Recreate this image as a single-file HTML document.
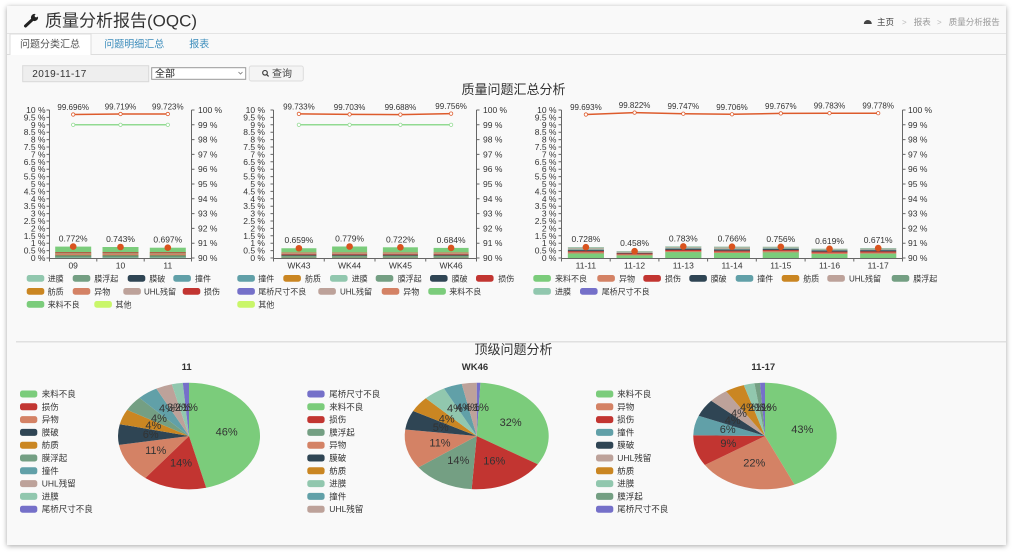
<!DOCTYPE html>
<html><head><meta charset="utf-8">
<style>
html,body{margin:0;padding:0;background:#fff;width:1014px;height:552px;overflow:hidden;}
.card{position:absolute;left:7px;top:6px;width:999px;height:539px;background:#f9f9f9;box-shadow:0 1px 5px rgba(0,0,0,.35);}
svg{position:absolute;left:0;top:0;}
text{font-family:"Liberation Sans","Noto Sans CJK SC",sans-serif;fill:#333;}
.ax{font-size:8.5px;}
.lg{font-size:8px;}
.pl{font-size:8.5px;}
.vl{font-size:8px;fill:#e36c3d;}
.bl{font-size:8.5px;fill:#e36c3d;}
.pv{font-size:11px;fill:#fff;}
</style></head><body>
<div class="card"></div>
<svg width="1014" height="552" viewBox="0 0 1014 552" xmlns="http://www.w3.org/2000/svg">
<!-- header -->
<line x1="7" y1="33.5" x2="1006" y2="33.5" stroke="#e4e4e4"/>
<g stroke="#222" stroke-linecap="round">
<line x1="25.5" y1="26" x2="32.5" y2="19.5" stroke-width="3"/>
</g>
<circle cx="34.5" cy="17.5" r="3.6" fill="#222"/>
<circle cx="36.3" cy="15.7" r="1.6" fill="#f9f9f9"/>
<text x="45" y="26.5" style="font-size:17px;fill:#333">质量分析报告(OQC)</text>
<path d="M863.8 24 a4 4 0 0 1 8 0 z" fill="#444"/>
<text x="877" y="25" style="font-size:8.5px;fill:#444">主页</text>
<text x="902" y="25" style="font-size:8px;fill:#bbb">&gt;</text>
<text x="913.7" y="25" style="font-size:8.5px;fill:#999">报表</text>
<text x="937" y="25" style="font-size:8px;fill:#bbb">&gt;</text>
<text x="948.7" y="25" style="font-size:8.5px;fill:#999">质量分析报告</text>
<!-- tabs -->
<line x1="7" y1="54.5" x2="1006" y2="54.5" stroke="#ddd"/>
<rect x="10" y="34" width="81" height="21" fill="#fff"/>
<path d="M10 55V34H91V55" fill="none" stroke="#ddd"/>
<text x="20" y="47.5" style="font-size:10px;fill:#555">问题分类汇总</text>
<text x="104.3" y="47.5" style="font-size:10px;fill:#3c8dbc">问题明细汇总</text>
<text x="189.3" y="47.5" style="font-size:10px;fill:#3c8dbc">报表</text>
<!-- form -->
<rect x="22.7" y="65.7" width="126" height="16" fill="#eee" stroke="#d9d9d9"/>
<text x="32.3" y="77" style="font-size:10px;letter-spacing:0.4px;fill:#333">2019-11-17</text>
<rect x="151.7" y="67.7" width="94" height="11.6" fill="#fff" stroke="#999"/>
<text x="155" y="77" style="font-size:10px;fill:#222">全部</text>
<path d="M238.5 72l2 2 2-2" fill="none" stroke="#777" stroke-width="0.8"/>
<rect x="249.3" y="66" width="54" height="15" rx="2" fill="#f4f4f4" stroke="#ddd"/>
<circle cx="265" cy="72.8" r="2.3" fill="none" stroke="#333" stroke-width="1.1"/>
<line x1="266.7" y1="74.5" x2="268.6" y2="76.4" stroke="#333" stroke-width="1.2"/>
<text x="272" y="77" style="font-size:10px;fill:#444">查询</text>
<text x="513.5" y="93.8" text-anchor="middle" style="font-size:13px;fill:#333">质量问题汇总分析</text>

<defs>
<path id="ltk" d="M-3 110h3M-3 117.4h3M-3 124.8h3M-3 132.2h3M-3 139.6h3M-3 147h3M-3 154.4h3M-3 161.8h3M-3 169.2h3M-3 176.6h3M-3 184h3M-3 191.4h3M-3 198.8h3M-3 206.2h3M-3 213.6h3M-3 221h3M-3 228.4h3M-3 235.8h3M-3 243.2h3M-3 250.6h3M-3 258h3"/>
<path id="rtk" d="M0 110h3M0 124.8h3M0 139.6h3M0 154.4h3M0 169.2h3M0 184h3M0 198.8h3M0 213.6h3M0 228.4h3M0 243.2h3M0 258h3"/>
<g id="s1">
<rect x="0" y="252.3" width="36" height="1.0" fill="#c23531"/>
<rect x="0" y="253.3" width="36" height="0.4" fill="#bda29a"/>
<rect x="0" y="253.7" width="36" height="1.5" fill="#d48265"/>
<rect x="0" y="255.2" width="36" height="0.3" fill="#ca8622"/>
<rect x="0" y="255.5" width="36" height="0.3" fill="#61a0a8"/>
<rect x="0" y="255.8" width="36" height="0.5" fill="#2f4554"/>
<rect x="0" y="256.3" width="36" height="1.3" fill="#749f83"/>
<rect x="0" y="257.6" width="36" height="0.4" fill="#91c7ae"/>
</g>
<g id="s2">
<rect x="0" y="252.4" width="35" height="1.3" fill="#d48265"/>
<rect x="0" y="253.7" width="35" height="0.4" fill="#bda29a"/>
<rect x="0" y="254.1" width="35" height="0.2" fill="#7570c9"/>
<rect x="0" y="254.3" width="35" height="1.0" fill="#c23531"/>
<rect x="0" y="255.3" width="35" height="0.6" fill="#2f4554"/>
<rect x="0" y="255.9" width="35" height="1.0" fill="#749f83"/>
<rect x="0" y="256.9" width="35" height="0.3" fill="#91c7ae"/>
<rect x="0" y="257.2" width="35" height="0.3" fill="#ca8622"/>
<rect x="0" y="257.5" width="35" height="0.5" fill="#61a0a8"/>
</g>
</defs>

<!-- ============ CHART 1 ============ -->
<g class="ax" text-anchor="end">
<text x="45.5" y="113">10 %</text><text x="45.5" y="120.4">9.5 %</text><text x="45.5" y="127.8">9 %</text><text x="45.5" y="135.2">8.5 %</text><text x="45.5" y="142.6">8 %</text><text x="45.5" y="150">7.5 %</text><text x="45.5" y="157.4">7 %</text><text x="45.5" y="164.8">6.5 %</text><text x="45.5" y="172.2">6 %</text><text x="45.5" y="179.6">5.5 %</text><text x="45.5" y="187">5 %</text><text x="45.5" y="194.4">4.5 %</text><text x="45.5" y="201.8">4 %</text><text x="45.5" y="209.2">3.5 %</text><text x="45.5" y="216.6">3 %</text><text x="45.5" y="224">2.5 %</text><text x="45.5" y="231.4">2 %</text><text x="45.5" y="238.8">1.5 %</text><text x="45.5" y="246.2">1 %</text><text x="45.5" y="253.6">0.5 %</text><text x="45.5" y="261">0 %</text>
</g>
<g class="ax">
<text x="198" y="113">100 %</text><text x="198" y="127.8">99 %</text><text x="198" y="142.6">98 %</text><text x="198" y="157.4">97 %</text><text x="198" y="172.2">96 %</text><text x="198" y="187">95 %</text><text x="198" y="201.8">94 %</text><text x="198" y="216.6">93 %</text><text x="198" y="231.4">92 %</text><text x="198" y="246.2">91 %</text><text x="198" y="261">90 %</text>
</g>
<!-- bars -->
<rect x="55.2" y="246.6" width="36" height="11.4" fill="#7bcc7b"/>
<rect x="102.5" y="247.0" width="36" height="11.0" fill="#7bcc7b"/>
<rect x="149.8" y="247.7" width="36" height="10.3" fill="#7bcc7b"/>
<use href="#s1" x="55.2"/><use href="#s1" x="102.5"/><use href="#s1" x="149.8"/>
<g stroke="#666" fill="none">
<use href="#ltk" x="49.5"/><use href="#rtk" x="191.5"/>
<path d="M49.5 110V258.5M191.5 110V258.5M49.5 258.5H191.5M49.5 258.5v3M96.8 258.5v3M144.2 258.5v3M191.5 258.5v3"/>
</g>
<g class="ax" text-anchor="middle">
<text x="73.2" y="268.7">09</text><text x="120.5" y="268.7">10</text><text x="167.8" y="268.7">11</text>
</g>
<polyline points="73.2,124.8 120.5,124.8 167.8,124.8" fill="none" stroke="#92da92" stroke-width="1.5"/>
<g fill="#fff" stroke="#92da92" stroke-width="0.8"><circle cx="73.2" cy="124.8" r="1.7"/><circle cx="120.5" cy="124.8" r="1.7"/><circle cx="167.8" cy="124.8" r="1.7"/></g>
<polyline points="73.2,114.5 120.5,114 167.8,114" fill="none" stroke="#dd5b2c" stroke-width="1.5"/>
<g fill="#fff" stroke="#dd5b2c" stroke-width="0.8"><circle cx="73.2" cy="114.5" r="1.7"/><circle cx="120.5" cy="114" r="1.7"/><circle cx="167.8" cy="114" r="1.7"/></g>
<g class="vl" text-anchor="middle">
<text x="73.2" y="110">99.696%</text><text x="120.5" y="109.5">99.719%</text><text x="167.8" y="109.5">99.723%</text>
</g>
<g fill="#d9531e"><circle cx="73.2" cy="246.6" r="3.3"/><circle cx="120.5" cy="247" r="3.3"/><circle cx="167.8" cy="247.7" r="3.3"/></g>
<g class="bl" text-anchor="middle">
<text x="73.2" y="241.6">0.772%</text><text x="120.5" y="242">0.743%</text><text x="167.8" y="242.7">0.697%</text>
</g>
<!-- legend 1 -->
<g>
<rect x="26.7" y="275" width="17.6" height="6.7" rx="2.5" fill="#91c7ae"/>
<rect x="72.7" y="275" width="17.6" height="6.7" rx="2.5" fill="#749f83"/>
<rect x="127.7" y="275" width="17.6" height="6.7" rx="2.5" fill="#2f4554"/>
<rect x="173.3" y="275" width="17.6" height="6.7" rx="2.5" fill="#61a0a8"/>
<rect x="26.7" y="288" width="17.6" height="6.7" rx="2.5" fill="#ca8622"/>
<rect x="72.7" y="288" width="17.6" height="6.7" rx="2.5" fill="#d48265"/>
<rect x="123.3" y="288" width="17.6" height="6.7" rx="2.5" fill="#bda29a"/>
<rect x="182.7" y="288" width="17.6" height="6.7" rx="2.5" fill="#c23531"/>
<rect x="26.7" y="301" width="17.6" height="6.7" rx="2.5" fill="#7bcc7b"/>
<rect x="94.3" y="301" width="17.6" height="6.7" rx="2.5" fill="#c9f66a"/>
</g>
<g class="lg">
<text x="47.7" y="281.3">进膜</text><text x="94.3" y="281.3">膜浮起</text><text x="149.3" y="281.3">膜破</text><text x="195" y="281.3">撞件</text>
<text x="47.7" y="294.3">舫质</text><text x="94.3" y="294.3">异物</text><text x="144" y="294.3">UHL残留</text><text x="204" y="294.3">损伤</text>
<text x="47.7" y="307.3">来料不良</text><text x="115.5" y="307.3">其他</text>
</g>

<!-- ============ CHART 2 ============ -->
<g class="ax" text-anchor="end">
<text x="265" y="113">10 %</text><text x="265" y="120.4">9.5 %</text><text x="265" y="127.8">9 %</text><text x="265" y="135.2">8.5 %</text><text x="265" y="142.6">8 %</text><text x="265" y="150">7.5 %</text><text x="265" y="157.4">7 %</text><text x="265" y="164.8">6.5 %</text><text x="265" y="172.2">6 %</text><text x="265" y="179.6">5.5 %</text><text x="265" y="187">5 %</text><text x="265" y="194.4">4.5 %</text><text x="265" y="201.8">4 %</text><text x="265" y="209.2">3.5 %</text><text x="265" y="216.6">3 %</text><text x="265" y="224">2.5 %</text><text x="265" y="231.4">2 %</text><text x="265" y="238.8">1.5 %</text><text x="265" y="246.2">1 %</text><text x="265" y="253.6">0.5 %</text><text x="265" y="261">0 %</text>
</g>
<g class="ax">
<text x="483" y="113">100 %</text><text x="483" y="127.8">99 %</text><text x="483" y="142.6">98 %</text><text x="483" y="157.4">97 %</text><text x="483" y="172.2">96 %</text><text x="483" y="187">95 %</text><text x="483" y="201.8">94 %</text><text x="483" y="216.6">93 %</text><text x="483" y="231.4">92 %</text><text x="483" y="246.2">91 %</text><text x="483" y="261">90 %</text>
</g>
<rect x="281.4" y="248.25" width="35" height="9.75" fill="#7bcc7b"/>
<rect x="332.1" y="246.5" width="35" height="11.5" fill="#7bcc7b"/>
<rect x="382.9" y="247.3" width="35" height="10.7" fill="#7bcc7b"/>
<rect x="433.6" y="247.9" width="35" height="10.1" fill="#7bcc7b"/>
<use href="#s2" x="281.4"/><use href="#s2" x="332.1"/><use href="#s2" x="382.9"/><use href="#s2" x="433.6"/>
<g stroke="#666" fill="none">
<use href="#ltk" x="273.5"/><use href="#rtk" x="476.5"/>
<path d="M273.5 110V258.5M476.5 110V258.5M273.5 258.5H476.5M273.5 258.5v3M324.25 258.5v3M375 258.5v3M425.75 258.5v3M476.5 258.5v3"/>
</g>
<g class="ax" text-anchor="middle">
<text x="298.9" y="268.7">WK43</text><text x="349.6" y="268.7">WK44</text><text x="400.4" y="268.7">WK45</text><text x="451.1" y="268.7">WK46</text>
</g>
<polyline points="298.9,124.8 349.6,124.8 400.4,124.8 451.1,124.8" fill="none" stroke="#92da92" stroke-width="1.5"/>
<g fill="#fff" stroke="#92da92" stroke-width="0.8"><circle cx="298.9" cy="124.8" r="1.7"/><circle cx="349.6" cy="124.8" r="1.7"/><circle cx="400.4" cy="124.8" r="1.7"/><circle cx="451.1" cy="124.8" r="1.7"/></g>
<polyline points="298.9,113.9 349.6,114.4 400.4,114.6 451.1,113.6" fill="none" stroke="#dd5b2c" stroke-width="1.5"/>
<g fill="#fff" stroke="#dd5b2c" stroke-width="0.8"><circle cx="298.9" cy="113.9" r="1.7"/><circle cx="349.6" cy="114.4" r="1.7"/><circle cx="400.4" cy="114.6" r="1.7"/><circle cx="451.1" cy="113.6" r="1.7"/></g>
<g class="vl" text-anchor="middle">
<text x="298.9" y="109.4">99.733%</text><text x="349.6" y="109.9">99.703%</text><text x="400.4" y="110.1">99.688%</text><text x="451.1" y="109.1">99.756%</text>
</g>
<g fill="#d9531e"><circle cx="298.9" cy="248.25" r="3.3"/><circle cx="349.6" cy="246.5" r="3.3"/><circle cx="400.4" cy="247.3" r="3.3"/><circle cx="451.1" cy="247.9" r="3.3"/></g>
<g class="bl" text-anchor="middle">
<text x="298.9" y="243.2">0.659%</text><text x="349.6" y="241.5">0.779%</text><text x="400.4" y="242.3">0.722%</text><text x="451.1" y="242.9">0.684%</text>
</g>
<g>
<rect x="237.3" y="275" width="17.6" height="6.7" rx="2.5" fill="#61a0a8"/>
<rect x="283.3" y="275" width="17.6" height="6.7" rx="2.5" fill="#ca8622"/>
<rect x="330" y="275" width="17.6" height="6.7" rx="2.5" fill="#91c7ae"/>
<rect x="375.7" y="275" width="17.6" height="6.7" rx="2.5" fill="#749f83"/>
<rect x="430" y="275" width="17.6" height="6.7" rx="2.5" fill="#2f4554"/>
<rect x="476" y="275" width="17.6" height="6.7" rx="2.5" fill="#c23531"/>
<rect x="237.3" y="288" width="17.6" height="6.7" rx="2.5" fill="#7570c9"/>
<rect x="318.3" y="288" width="17.6" height="6.7" rx="2.5" fill="#bda29a"/>
<rect x="381.7" y="288" width="17.6" height="6.7" rx="2.5" fill="#d48265"/>
<rect x="428.3" y="288" width="17.6" height="6.7" rx="2.5" fill="#7bcc7b"/>
<rect x="237.3" y="301" width="17.6" height="6.7" rx="2.5" fill="#c9f66a"/>
</g>
<g class="lg">
<text x="258.3" y="281.3">撞件</text><text x="305" y="281.3">舫质</text><text x="351.7" y="281.3">进膜</text><text x="397.7" y="281.3">膜浮起</text><text x="451.7" y="281.3">膜破</text><text x="498.3" y="281.3">损伤</text>
<text x="258.3" y="294.3">尾桥尺寸不良</text><text x="340" y="294.3">UHL残留</text><text x="403.3" y="294.3">异物</text><text x="449.3" y="294.3">来料不良</text>
<text x="258.3" y="307.3">其他</text>
</g>

<!-- ============ CHART 3 ============ -->
<g class="ax" text-anchor="end">
<text x="556.5" y="113">10 %</text><text x="556.5" y="120.4">9.5 %</text><text x="556.5" y="127.8">9 %</text><text x="556.5" y="135.2">8.5 %</text><text x="556.5" y="142.6">8 %</text><text x="556.5" y="150">7.5 %</text><text x="556.5" y="157.4">7 %</text><text x="556.5" y="164.8">6.5 %</text><text x="556.5" y="172.2">6 %</text><text x="556.5" y="179.6">5.5 %</text><text x="556.5" y="187">5 %</text><text x="556.5" y="194.4">4.5 %</text><text x="556.5" y="201.8">4 %</text><text x="556.5" y="209.2">3.5 %</text><text x="556.5" y="216.6">3 %</text><text x="556.5" y="224">2.5 %</text><text x="556.5" y="231.4">2 %</text><text x="556.5" y="238.8">1.5 %</text><text x="556.5" y="246.2">1 %</text><text x="556.5" y="253.6">0.5 %</text><text x="556.5" y="261">0 %</text>
</g>
<g class="ax">
<text x="908" y="113">100 %</text><text x="908" y="127.8">99 %</text><text x="908" y="142.6">98 %</text><text x="908" y="157.4">97 %</text><text x="908" y="172.2">96 %</text><text x="908" y="187">95 %</text><text x="908" y="201.8">94 %</text><text x="908" y="216.6">93 %</text><text x="908" y="231.4">92 %</text><text x="908" y="246.2">91 %</text><text x="908" y="261">90 %</text>
</g>
<!-- bars chart3 -->
<g>
<!-- 11-11 -->
<rect x="567.9" y="247.2" width="36" height="10.8" fill="#b4b09e"/>
<rect x="567.9" y="247.2" width="36" height="0.6" fill="#91c7ae"/>
<rect x="567.9" y="249.6" width="36" height="0.6" fill="#61a0a8"/>
<rect x="567.9" y="250.2" width="36" height="1.0" fill="#2f4554"/>
<rect x="567.9" y="251.2" width="36" height="1.1" fill="#c23531"/>
<rect x="567.9" y="252.3" width="36" height="1.2" fill="#d48265"/>
<rect x="567.9" y="253.5" width="36" height="4.5" fill="#7bcc7b"/>
<!-- 11-12 -->
<rect x="616.6" y="251.2" width="36" height="6.8" fill="#b4b09e"/>
<rect x="616.6" y="251.2" width="36" height="0.5" fill="#91c7ae"/>
<rect x="616.6" y="252.9" width="36" height="0.2" fill="#61a0a8"/>
<rect x="616.6" y="253.1" width="36" height="0.4" fill="#2f4554"/>
<rect x="616.6" y="253.5" width="36" height="0.9" fill="#c23531"/>
<rect x="616.6" y="254.4" width="36" height="1.0" fill="#d48265"/>
<rect x="616.6" y="255.4" width="36" height="2.6" fill="#7bcc7b"/>
<!-- 11-13 -->
<rect x="665.3" y="246.4" width="36" height="11.6" fill="#b4b09e"/>
<rect x="665.3" y="246.4" width="36" height="0.6" fill="#91c7ae"/>
<rect x="665.3" y="248.3" width="36" height="0.6" fill="#61a0a8"/>
<rect x="665.3" y="248.9" width="36" height="1.0" fill="#2f4554"/>
<rect x="665.3" y="249.9" width="36" height="1.1" fill="#c23531"/>
<rect x="665.3" y="251.0" width="36" height="1.2" fill="#d48265"/>
<rect x="665.3" y="252.2" width="36" height="5.8" fill="#7bcc7b"/>
<!-- 11-14 -->
<rect x="714" y="246.7" width="36" height="11.3" fill="#b4b09e"/>
<rect x="714" y="246.7" width="36" height="0.6" fill="#91c7ae"/>
<rect x="714" y="249.1" width="36" height="0.6" fill="#61a0a8"/>
<rect x="714" y="249.7" width="36" height="1.0" fill="#2f4554"/>
<rect x="714" y="250.7" width="36" height="1.1" fill="#c23531"/>
<rect x="714" y="251.8" width="36" height="1.2" fill="#d48265"/>
<rect x="714" y="253.0" width="36" height="5.0" fill="#7bcc7b"/>
<!-- 11-15 -->
<rect x="762.8" y="246.8" width="36" height="11.2" fill="#b4b09e"/>
<rect x="762.8" y="246.8" width="36" height="0.6" fill="#91c7ae"/>
<rect x="762.8" y="248.5" width="36" height="0.6" fill="#61a0a8"/>
<rect x="762.8" y="249.1" width="36" height="1.0" fill="#2f4554"/>
<rect x="762.8" y="250.1" width="36" height="1.1" fill="#c23531"/>
<rect x="762.8" y="251.2" width="36" height="1.2" fill="#d48265"/>
<rect x="762.8" y="252.4" width="36" height="5.6" fill="#7bcc7b"/>
<!-- 11-16 -->
<rect x="811.5" y="248.8" width="36" height="9.2" fill="#b4b09e"/>
<rect x="811.5" y="248.8" width="36" height="0.6" fill="#91c7ae"/>
<rect x="811.5" y="250.1" width="36" height="0.6" fill="#61a0a8"/>
<rect x="811.5" y="250.7" width="36" height="1.0" fill="#2f4554"/>
<rect x="811.5" y="251.7" width="36" height="1.1" fill="#c23531"/>
<rect x="811.5" y="252.8" width="36" height="1.2" fill="#d48265"/>
<rect x="811.5" y="254.0" width="36" height="4.0" fill="#7bcc7b"/>
<!-- 11-17 -->
<rect x="860.2" y="248.1" width="36" height="9.9" fill="#b4b09e"/>
<rect x="860.2" y="248.1" width="36" height="0.6" fill="#91c7ae"/>
<rect x="860.2" y="249.8" width="36" height="0.6" fill="#61a0a8"/>
<rect x="860.2" y="250.4" width="36" height="1.0" fill="#2f4554"/>
<rect x="860.2" y="251.4" width="36" height="1.1" fill="#c23531"/>
<rect x="860.2" y="252.5" width="36" height="1.2" fill="#d48265"/>
<rect x="860.2" y="253.7" width="36" height="4.3" fill="#7bcc7b"/>
</g>
<g stroke="#666" fill="none">
<use href="#ltk" x="561.5"/><use href="#rtk" x="902.5"/>
<path d="M561.5 110V258.5M902.5 110V258.5M561.5 258.5H902.5M561.5 258.5v3M610.2 258.5v3M658.9 258.5v3M707.6 258.5v3M756.3 258.5v3M805.1 258.5v3M853.8 258.5v3M902.5 258.5v3"/>
</g>
<g class="ax" text-anchor="middle">
<text x="585.9" y="268.7">11-11</text><text x="634.6" y="268.7">11-12</text><text x="683.3" y="268.7">11-13</text><text x="732" y="268.7">11-14</text><text x="780.8" y="268.7">11-15</text><text x="829.5" y="268.7">11-16</text><text x="878.2" y="268.7">11-17</text>
</g>
<polyline points="585.9,114.5 634.6,112.6 683.3,113.7 732,114.3 780.8,113.4 829.5,113.2 878.2,113.2" fill="none" stroke="#dd5b2c" stroke-width="1.5"/>
<g fill="#fff" stroke="#dd5b2c" stroke-width="0.8"><circle cx="585.9" cy="114.5" r="1.7"/><circle cx="634.6" cy="112.6" r="1.7"/><circle cx="683.3" cy="113.7" r="1.7"/><circle cx="732" cy="114.3" r="1.7"/><circle cx="780.8" cy="113.4" r="1.7"/><circle cx="829.5" cy="113.2" r="1.7"/><circle cx="878.2" cy="113.2" r="1.7"/></g>
<g class="vl" text-anchor="middle">
<text x="585.9" y="110">99.693%</text><text x="634.6" y="108.1">99.822%</text><text x="683.3" y="109.2">99.747%</text><text x="732" y="109.8">99.706%</text><text x="780.8" y="108.9">99.767%</text><text x="829.5" y="108.7">99.783%</text><text x="878.2" y="108.7">99.778%</text>
</g>
<g fill="#d9531e"><circle cx="585.9" cy="247.2" r="3.3"/><circle cx="634.6" cy="251.2" r="3.3"/><circle cx="683.3" cy="246.4" r="3.3"/><circle cx="732" cy="246.7" r="3.3"/><circle cx="780.8" cy="246.8" r="3.3"/><circle cx="829.5" cy="248.8" r="3.3"/><circle cx="878.2" cy="248.1" r="3.3"/></g>
<g class="bl" text-anchor="middle">
<text x="585.9" y="242.2">0.728%</text><text x="634.6" y="246.2">0.458%</text><text x="683.3" y="241.4">0.783%</text><text x="732" y="241.7">0.766%</text><text x="780.8" y="241.8">0.756%</text><text x="829.5" y="243.8">0.619%</text><text x="878.2" y="243.1">0.671%</text>
</g>
<g>
<rect x="533.3" y="275" width="17.6" height="6.7" rx="2.5" fill="#7bcc7b"/>
<rect x="597.3" y="275" width="17.6" height="6.7" rx="2.5" fill="#d48265"/>
<rect x="643.3" y="275" width="17.6" height="6.7" rx="2.5" fill="#c23531"/>
<rect x="689.3" y="275" width="17.6" height="6.7" rx="2.5" fill="#2f4554"/>
<rect x="735.7" y="275" width="17.6" height="6.7" rx="2.5" fill="#61a0a8"/>
<rect x="781.7" y="275" width="17.6" height="6.7" rx="2.5" fill="#ca8622"/>
<rect x="827.3" y="275" width="17.6" height="6.7" rx="2.5" fill="#bda29a"/>
<rect x="891.7" y="275" width="17.6" height="6.7" rx="2.5" fill="#749f83"/>
<rect x="533.3" y="288" width="17.6" height="6.7" rx="2.5" fill="#91c7ae"/>
<rect x="580" y="288" width="17.6" height="6.7" rx="2.5" fill="#7570c9"/>
</g>
<g class="lg">
<text x="555" y="281.3">来料不良</text><text x="619" y="281.3">异物</text><text x="665" y="281.3">损伤</text><text x="710.7" y="281.3">膜破</text><text x="757.3" y="281.3">撞件</text><text x="803.3" y="281.3">舫质</text><text x="849" y="281.3">UHL残留</text><text x="913.3" y="281.3">膜浮起</text>
<text x="555" y="294.3">进膜</text><text x="601.7" y="294.3">尾桥尺寸不良</text>
</g>

<!-- ============ PIE SECTION ============ -->
<line x1="16" y1="341.7" x2="1006" y2="341.7" stroke="#e0e0e0" stroke-width="1.5"/>
<text x="513.5" y="354" text-anchor="middle" style="font-size:13px;fill:#333">顶级问题分析</text>
<g text-anchor="middle" style="font-size:9.5px;font-weight:bold">
<text x="186.7" y="370">11</text><text x="475" y="370">WK46</text><text x="763.3" y="370">11-17</text>
</g>

<!-- pie 1 -->
<g>
<path d="M189 436L189 382.7A71 53.3 0 0 1 206.18 487.72Z" fill="#7bcc7b"/>
<path d="M189 436L206.18 487.72A71 53.3 0 0 1 145.29 478Z" fill="#c23531"/>
<path d="M189 436L145.29 478A71 53.3 0 0 1 119 444.89Z" fill="#d48265"/>
<path d="M189 436L119 444.89A71 53.3 0 0 1 119.77 424.19Z" fill="#2f4554"/>
<path d="M189 436L119.77 424.19A71 53.3 0 0 1 127.14 409.83Z" fill="#ca8622"/>
<path d="M189 436L127.14 409.83A71 53.3 0 0 1 139.41 397.85Z" fill="#749f83"/>
<path d="M189 436L139.41 397.85A71 53.3 0 0 1 156.33 388.68Z" fill="#61a0a8"/>
<path d="M189 436L156.33 388.68A71 53.3 0 0 1 171.82 384.28Z" fill="#bda29a"/>
<path d="M189 436L171.82 384.28A71 53.3 0 0 1 182.81 382.9Z" fill="#91c7ae"/>
<path d="M189 436L182.81 382.9A71 53.3 0 0 1 189 382.7Z" fill="#7570c9"/>
</g>
<g class="pv" text-anchor="middle">
<text x="226.7" y="435.5">46%</text><text x="181" y="466.5">14%</text><text x="155.7" y="454">11%</text><text x="150.7" y="438">6%</text><text x="153.3" y="429">4%</text><text x="159" y="422">4%</text>
<text x="167" y="412">4%</text><text x="175" y="411">3%</text><text x="183" y="411">2%</text><text x="190" y="411">1%</text>
</g>
<!-- pie 2 -->
<g>
<path d="M476.7 436L476.7 382.7A72 53.3 0 0 1 480.47 382.77Z" fill="#7570c9"/>
<path d="M476.7 436L480.47 382.77A72 53.3 0 0 1 537.76 464.24Z" fill="#7bcc7b"/>
<path d="M476.7 436L537.76 464.24A72 53.3 0 0 1 471.68 489.17Z" fill="#c23531"/>
<path d="M476.7 436L471.68 489.17A72 53.3 0 0 1 418.45 467.33Z" fill="#749f83"/>
<path d="M476.7 436L418.45 467.33A72 53.3 0 0 1 405.24 429.5Z" fill="#d48265"/>
<path d="M476.7 436L405.24 429.5A72 53.3 0 0 1 413.13 410.98Z" fill="#2f4554"/>
<path d="M476.7 436L413.13 410.98A72 53.3 0 0 1 425.79 398.31Z" fill="#ca8622"/>
<path d="M476.7 436L425.79 398.31A72 53.3 0 0 1 444.01 388.51Z" fill="#91c7ae"/>
<path d="M476.7 436L444.01 388.51A72 53.3 0 0 1 461.73 383.87Z" fill="#61a0a8"/>
<path d="M476.7 436L461.73 383.87A72 53.3 0 0 1 476.7 382.7Z" fill="#bda29a"/>
</g>
<g class="pv" text-anchor="middle">
<text x="510.7" y="426">32%</text><text x="494.3" y="464.5">16%</text><text x="458.3" y="464">14%</text><text x="440" y="446.5">11%</text><text x="440.7" y="431">5%</text><text x="446.7" y="422.5">4%</text>
<text x="455" y="412">4%</text><text x="464" y="411">4%</text><text x="472" y="411">4%</text><text x="481" y="411">1%</text>
</g>
<!-- pie 3 -->
<g>
<path d="M765 436L765 382.7A71.7 53.3 0 0 1 794.5 484.58Z" fill="#7bcc7b"/>
<path d="M765 436L794.5 484.58A71.7 53.3 0 0 1 704.87 465.03Z" fill="#d48265"/>
<path d="M765 436L704.87 465.03A71.7 53.3 0 0 1 693.31 435.25Z" fill="#c23531"/>
<path d="M765 436L693.31 435.25A71.7 53.3 0 0 1 698.66 415.77Z" fill="#61a0a8"/>
<path d="M765 436L698.66 415.77A71.7 53.3 0 0 1 711.22 400.75Z" fill="#2f4554"/>
<path d="M765 436L711.22 400.75A71.7 53.3 0 0 1 726.16 391.2Z" fill="#bda29a"/>
<path d="M765 436L726.16 391.2A71.7 53.3 0 0 1 743.8 385.08Z" fill="#ca8622"/>
<path d="M765 436L743.8 385.08A71.7 53.3 0 0 1 754.4 383.29Z" fill="#91c7ae"/>
<path d="M765 436L754.4 383.29A71.7 53.3 0 0 1 760 382.83Z" fill="#749f83"/>
<path d="M765 436L760 382.83A71.7 53.3 0 0 1 765 382.7Z" fill="#7570c9"/>
</g>
<g class="pv" text-anchor="middle">
<text x="802.3" y="433">43%</text><text x="754.3" y="466.5">22%</text><text x="728.3" y="447">9%</text><text x="727.7" y="433">6%</text><text x="732.7" y="424">4%</text><text x="739" y="417">4%</text>
<text x="748" y="411">4%</text><text x="756" y="411">2%</text><text x="763" y="411">1%</text><text x="769" y="411">1%</text>
</g>

<!-- pie legends -->
<g>
<rect x="20" y="390.5" width="17.3" height="7" rx="2.5" fill="#7bcc7b"/>
<rect x="20" y="403.3" width="17.3" height="7" rx="2.5" fill="#c23531"/>
<rect x="20" y="416.1" width="17.3" height="7" rx="2.5" fill="#d48265"/>
<rect x="20" y="428.9" width="17.3" height="7" rx="2.5" fill="#2f4554"/>
<rect x="20" y="441.7" width="17.3" height="7" rx="2.5" fill="#ca8622"/>
<rect x="20" y="454.5" width="17.3" height="7" rx="2.5" fill="#749f83"/>
<rect x="20" y="467.3" width="17.3" height="7" rx="2.5" fill="#61a0a8"/>
<rect x="20" y="480.1" width="17.3" height="7" rx="2.5" fill="#bda29a"/>
<rect x="20" y="492.9" width="17.3" height="7" rx="2.5" fill="#91c7ae"/>
<rect x="20" y="505.7" width="17.3" height="7" rx="2.5" fill="#7570c9"/>
</g>
<g class="pl">
<text x="41.7" y="397">来料不良</text><text x="41.7" y="409.8">损伤</text><text x="41.7" y="422.6">异物</text><text x="41.7" y="435.4">膜破</text><text x="41.7" y="448.2">舫质</text><text x="41.7" y="461">膜浮起</text><text x="41.7" y="473.8">撞件</text><text x="41.7" y="486.6">UHL残留</text><text x="41.7" y="499.4">进膜</text><text x="41.7" y="512.2">尾桥尺寸不良</text>
</g>
<g>
<rect x="307.3" y="390.5" width="17.3" height="7" rx="2.5" fill="#7570c9"/>
<rect x="307.3" y="403.3" width="17.3" height="7" rx="2.5" fill="#7bcc7b"/>
<rect x="307.3" y="416.1" width="17.3" height="7" rx="2.5" fill="#c23531"/>
<rect x="307.3" y="428.9" width="17.3" height="7" rx="2.5" fill="#749f83"/>
<rect x="307.3" y="441.7" width="17.3" height="7" rx="2.5" fill="#d48265"/>
<rect x="307.3" y="454.5" width="17.3" height="7" rx="2.5" fill="#2f4554"/>
<rect x="307.3" y="467.3" width="17.3" height="7" rx="2.5" fill="#ca8622"/>
<rect x="307.3" y="480.1" width="17.3" height="7" rx="2.5" fill="#91c7ae"/>
<rect x="307.3" y="492.9" width="17.3" height="7" rx="2.5" fill="#61a0a8"/>
<rect x="307.3" y="505.7" width="17.3" height="7" rx="2.5" fill="#bda29a"/>
</g>
<g class="pl">
<text x="329.3" y="397">尾桥尺寸不良</text><text x="329.3" y="409.8">来料不良</text><text x="329.3" y="422.6">损伤</text><text x="329.3" y="435.4">膜浮起</text><text x="329.3" y="448.2">异物</text><text x="329.3" y="461">膜破</text><text x="329.3" y="473.8">舫质</text><text x="329.3" y="486.6">进膜</text><text x="329.3" y="499.4">撞件</text><text x="329.3" y="512.2">UHL残留</text>
</g>
<g>
<rect x="596" y="390.5" width="17.3" height="7" rx="2.5" fill="#7bcc7b"/>
<rect x="596" y="403.3" width="17.3" height="7" rx="2.5" fill="#d48265"/>
<rect x="596" y="416.1" width="17.3" height="7" rx="2.5" fill="#c23531"/>
<rect x="596" y="428.9" width="17.3" height="7" rx="2.5" fill="#61a0a8"/>
<rect x="596" y="441.7" width="17.3" height="7" rx="2.5" fill="#2f4554"/>
<rect x="596" y="454.5" width="17.3" height="7" rx="2.5" fill="#bda29a"/>
<rect x="596" y="467.3" width="17.3" height="7" rx="2.5" fill="#ca8622"/>
<rect x="596" y="480.1" width="17.3" height="7" rx="2.5" fill="#91c7ae"/>
<rect x="596" y="492.9" width="17.3" height="7" rx="2.5" fill="#749f83"/>
<rect x="596" y="505.7" width="17.3" height="7" rx="2.5" fill="#7570c9"/>
</g>
<g class="pl">
<text x="617.3" y="397">来料不良</text><text x="617.3" y="409.8">异物</text><text x="617.3" y="422.6">损伤</text><text x="617.3" y="435.4">撞件</text><text x="617.3" y="448.2">膜破</text><text x="617.3" y="461">UHL残留</text><text x="617.3" y="473.8">舫质</text><text x="617.3" y="486.6">进膜</text><text x="617.3" y="499.4">膜浮起</text><text x="617.3" y="512.2">尾桥尺寸不良</text>
</g>
</svg>
</body></html>
